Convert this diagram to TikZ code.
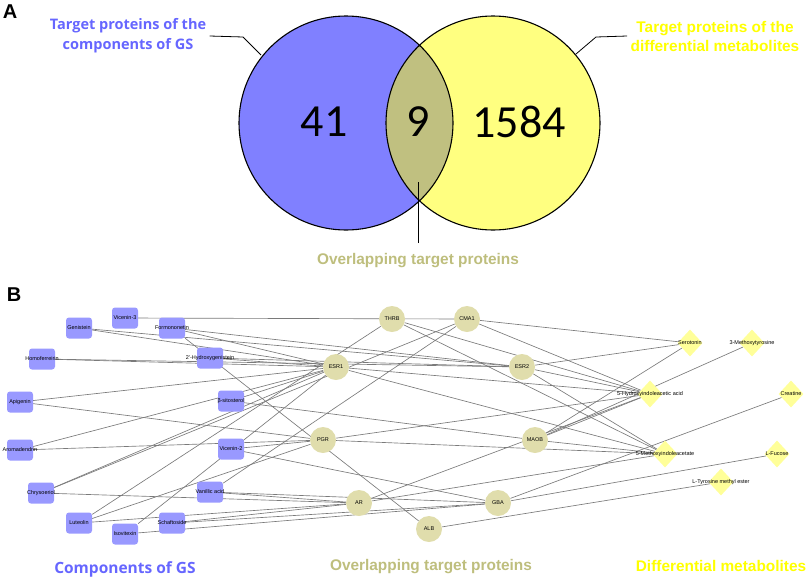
\documentclass[tikz,border=0pt]{standalone}
\usepackage{fontspec}
\setmainfont{Liberation Sans}
\newfontfamily\zahlfont{Carlito}
\newfontfamily\titelfont{Open Sans}
\usetikzlibrary{shapes.geometric,backgrounds}

\definecolor{gsblau}{RGB}{128,128,255}
\definecolor{metagelb}{RGB}{255,255,128}
\definecolor{schnitt}{RGB}{192,192,128}
\definecolor{blauschrift}{RGB}{102,102,255}
\definecolor{gelbschrift}{RGB}{255,255,0}
\definecolor{olivschrift}{RGB}{190,190,125}
\definecolor{komp}{RGB}{153,153,255}
\definecolor{zielfarbe}{RGB}{224,221,172}
\definecolor{metafarbe}{RGB}{255,255,153}

\newcommand{\mitte}[1]{\makebox[0pt]{#1}}

\begin{document}
\begin{tikzpicture}[x=1pt, y=-1pt,
    komponente/.style={
      rectangle,
      rounded corners=3pt,
      fill=komp,
      minimum width=26pt,
      minimum height=21pt,
      inner sep=0pt,
      font=\fontsize{5.5}{6}\selectfont},
    ziel/.style={
      circle,
      fill=zielfarbe,
      minimum size=26pt,
      inner sep=0pt,
      font=\fontsize{5.5}{6}\selectfont},
    metabolit/.style={
      diamond,
      fill=metafarbe,
      minimum width=25pt,
      minimum height=27pt,
      inner sep=0pt,
      font=\fontsize{5.5}{6}\selectfont},
    titel/.style={font=\bfseries\fontsize{15.4}{19}\selectfont, align=center},
    segoetitel/.style={font=\titelfont\bfseries\fontsize{14.5}{20}\selectfont, align=center, text=blauschrift},
    zahl/.style={font=\zahlfont\fontsize{46}{46}\selectfont},
    tafel/.style={font=\bfseries\fontsize{20}{20}\selectfont},
    kante/.style={draw=black!52, line width=.65pt},
    leiter/.style={draw=black, line width=.8pt}
    ]

  \useasboundingbox (0,0) rectangle (809,582);

  \fill[gsblau] (346,123) circle (107pt);
  \fill[metagelb] (493,123) circle (107pt);
  \begin{scope}
    \clip (346,123) circle (107pt);
    \fill[schnitt] (493,123) circle (107pt);
  \end{scope}
  \draw[line width=1.1pt] (346,123) circle (107pt) (493,123) circle (107pt);

  \node at (10,12) (tafelA) [tafel] {A};
  \node at (14,295) (tafelB) [tafel] {B};

  \node at (324,122) (zahlgs) [zahl] {41};
  \node at (418,122) (zahlschnitt) [zahl] {9};
  \node at (519,122) (zahlmeta) [zahl] {1584};

  \node at (128,36) (gslabel) [segoetitel] {Target proteins of the\\components of GS};
  \node at (715,36) (metalabel) [titel, text=gelbschrift] {Target proteins of the\\differential metabolites};
  \node at (418,261) (schnittlabel) [titel, text=olivschrift] {Overlapping target proteins};

  \coordinate (gsknick) at (243,37);
  \coordinate (gsrand) at (261,55);
  \coordinate (metaknick) at (596,37);
  \coordinate (metarand) at (576,54);
  \coordinate (schnittoben) at (418,182);
  \coordinate (schnittunten) at (418,243);

  \draw[leiter] (gslabel.east) -- (gsknick) -- (gsrand);
  \draw[leiter] (metalabel.west) -- (metaknick) -- (metarand);
  \draw[leiter] (schnittunten) -- (schnittoben);

\node at (125,318) (vicenin3) [komponente] {\mitte{Vicenin-3}};
\node at (79,328) (genistein) [komponente] {\mitte{Genistein}};
\node at (172,328) (formononetin) [komponente] {\mitte{Formononetin}};
\node at (42,359) (homoferreirin) [komponente] {\mitte{Homoferreirin}};
\node at (210,358) (hydroxygenistein) [komponente] {\mitte{2'-Hydroxygenistein}};
\node at (20,402) (apigenin) [komponente] {\mitte{Apigenin}};
\node at (231,401) (sitosterol) [komponente] {\mitte{β-sitosterol}};
\node at (20,450) (aromadendrin) [komponente] {\mitte{Aromadendrin}};
\node at (231,449) (vicenin2) [komponente] {\mitte{Vicenin-2}};
\node at (41,493) (chrysoeriol) [komponente] {\mitte{Chrysoeriol}};
\node at (210,492) (vanillin) [komponente] {\mitte{Vanillic acid}};
\node at (79,523) (luteolin) [komponente] {\mitte{Luteolin}};
\node at (172,523) (schaftosid) [komponente] {\mitte{Schaftoside}};
\node at (125,534) (isovitexin) [komponente] {\mitte{Isovitexin}};

\node at (392,319) (thrb) [ziel] {THRB};
\node at (467,319) (cma1) [ziel] {CMA1};
\node at (336,367) (esr1) [ziel] {ESR1};
\node at (522,367) (esr2) [ziel] {ESR2};
\node at (323,440) (pgr) [ziel] {PGR};
\node at (535,440) (maob) [ziel] {MAOB};
\node at (359,503) (ar) [ziel] {AR};
\node at (498,503) (gba) [ziel] {GBA};
\node at (429,529) (alb) [ziel] {ALB};

\node at (690,343) (serotonin) [metabolit] {\mitte{Serotonin}};
\node at (752,343) (methoxytyrosin) [metabolit] {\mitte{3-Methoxytyrosine}};
\node at (650,394) (hiaa) [metabolit] {\mitte{5-Hydroxyindoleacetic acid}};
\node at (791,394) (kreatin) [metabolit] {\mitte{Creatine}};
\node at (665,454) (mia) [metabolit] {\mitte{5-Methoxyindoleacetate}};
\node at (777,454) (fucose) [metabolit] {\mitte{L-Fucose}};
\node at (721,482) (tyrosinester) [metabolit] {\mitte{L-Tyrosine methyl ester}};

  \node at (125,569) (komplabel) [segoetitel, font=\titelfont\bfseries\fontsize{15.5}{18}\selectfont] {Components of GS};
  \node at (431,567) (ziellabel) [titel, text=olivschrift] {Overlapping target proteins};
  \node at (721,566) (metalabelB) [titel, text=gelbschrift] {Differential metabolites};

  \begin{scope}[on background layer]
  \path[kante]
        (vicenin3) edge (cma1)
(genistein) edge (esr1)
(genistein) edge (esr2)
(formononetin) edge (esr1)
(formononetin) edge (esr2)
(formononetin) edge (alb)
(homoferreirin) edge (esr1)
(homoferreirin) edge (esr2)
(hydroxygenistein) edge (esr1)
(hydroxygenistein) edge (esr2)
(apigenin) edge (esr1)
(apigenin) edge (pgr)
(sitosterol) edge (esr1)
(sitosterol) edge (maob)
(aromadendrin) edge (esr1)
(aromadendrin) edge (pgr)
(vicenin2) edge (pgr)
(vicenin2) edge (gba)
(chrysoeriol) edge (esr1)
(chrysoeriol) edge (cma1)
(chrysoeriol) edge (ar)
(vanillin) edge (cma1)
(vanillin) edge (ar)
(vanillin) edge (gba)
(luteolin) edge (thrb)
(luteolin) edge (pgr)
(luteolin) edge (ar)
(isovitexin) edge (esr1)
(isovitexin) edge (gba)
(schaftosid) edge (ar)
(schaftosid) edge (gba)
(thrb) edge (hiaa)
(thrb) edge (mia)
(cma1) edge (serotonin)
(cma1) edge (hiaa)
(esr1) edge (hiaa)
(esr1) edge (mia)
(esr2) edge (serotonin)
(esr2) edge (hiaa)
(esr2) edge (mia)
(pgr) edge (hiaa)
(pgr) edge (mia)
(maob) edge (serotonin)
(maob) edge (methoxytyrosin)
(maob) edge (hiaa)
(maob) edge (mia)
(ar) edge (hiaa)
(ar) edge (mia)
(gba) edge (kreatin)
(gba) edge (fucose)
(alb) edge (tyrosinester)
   ;
  \end{scope}

\end{tikzpicture}
\end{document}
